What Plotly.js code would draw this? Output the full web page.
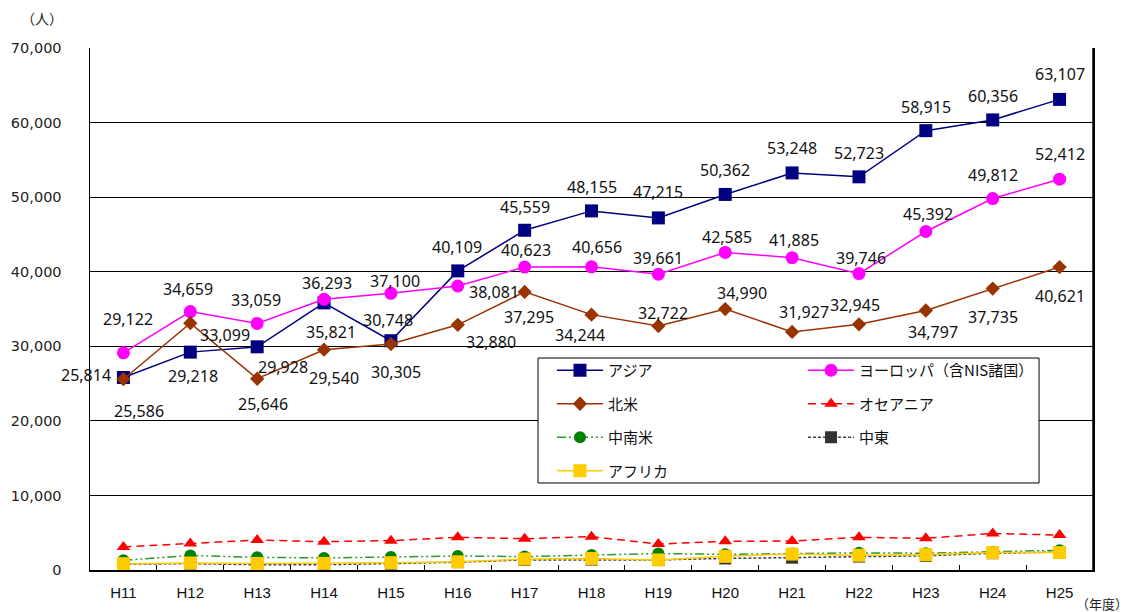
<!DOCTYPE html>
<html>
<head>
<meta charset="utf-8">
<script src="https://cdn.plot.ly/plotly-3.0.1.min.js"></script>
<style>
  html, body { margin: 0; padding: 0; background: #fff; }
  #chart { width: 1128px; height: 612px; }
</style>
</head>
<body>
<div id="chart"></div>
<script>
// ---- data ----
const years = ["H11","H12","H13","H14","H15","H16","H17","H18","H19","H20","H21","H22","H23","H24","H25"];
const asia = [25814, 29218, 29928, 35821, 30748, 40109, 45559, 48155, 47215, 50362, 53248, 52723, 58915, 60356, 63107];
const europe = [29122, 34659, 33059, 36293, 37100, 38081, 40623, 40656, 39661, 42585, 41885, 39746, 45392, 49812, 52412];
const northAmerica = [25586, 33099, 25646, 29540, 30305, 32880, 37295, 34244, 32722, 34990, 31927, 32945, 34797, 37735, 40621];
const oceania = [3100, 3570, 4020, 3800, 3930, 4380, 4200, 4470, 3480, 3840, 3890, 4380, 4250, 4900, 4690];
const latinAmerica = [1300, 1950, 1700, 1620, 1740, 1880, 1800, 2000, 2200, 2100, 2200, 2300, 2250, 2450, 2640];
const middleEast = [780, 850, 700, 720, 850, 1050, 1350, 1400, 1350, 1550, 1650, 1800, 1900, 2250, 2400];
const africa = [850, 940, 870, 890, 980, 1100, 1470, 1550, 1350, 1830, 2140, 1970, 2060, 2330, 2330];

const names = {
  asia: "アジア", europe: "ヨーロッパ（含NIS諸国）", na: "北米", oceania: "オセアニア",
  latin: "中南米", me: "中東", africa: "アフリカ"
};

// ---- label offsets (screen px, dx right, dy down) ----
const asiaLabelOffsets = [[-37,-3],[3,24],[26,20],[7,29],[-3,-21],[-1,-24],[0,-23],[0,-24],[0,-26],[0,-24],[0,-25],[0,-24],[0,-24],[0,-24],[0,-25]];
const europeLabelOffsets = [[5,-34],[-2,-23],[-1,-23],[3,-16],[4,-12],[36,6],[1,-17],[5,-20],[0,-16],[2,-15],[2,-18],[2,-16],[2,-18],[0,-24],[0,-25]];
const naLabelOffsets = [[16,32],[35,12],[6,25],[10,28],[5,28],[33,17],[4,25],[-12,20],[5,-13],[17,-16],[12,-20],[-4,-19],[7,21],[0,28],[0,29]];

const labelFont = {family: "Noto Sans, Open Sans, sans-serif", size: 16, color: "#111"};

function labels(values, offsets) {
  return values.map((v, i) => ({
    x: years[i], y: v, xref: "x", yref: "y",
    text: v.toLocaleString("en-US"),
    showarrow: false, font: labelFont,
    xshift: offsets[i][0], yshift: -offsets[i][1]
  }));
}

const traces = [
  {name: names.asia, y: asia, legend: "legend", legendgroup: "a", legendrank: 1,
   line: {color: "#000080", width: 1.5}, marker: {symbol: "square", size: 13, color: "#000080"}},
  {name: names.europe, y: europe, legend: "legend2", legendgroup: "b", legendrank: 1,
   line: {color: "#FF00FF", width: 1.5}, marker: {symbol: "circle", size: 13, color: "#FF00FF"}},
  {name: names.na, y: northAmerica, legend: "legend", legendgroup: "c", legendrank: 2,
   line: {color: "#993300", width: 1.5}, marker: {symbol: "diamond", size: 11, color: "#993300"}},
  {name: names.oceania, y: oceania, legend: "legend2", legendgroup: "d", legendrank: 2,
   line: {color: "#FF0000", width: 1.5, dash: "8px,5px"}, marker: {symbol: "triangle-up", size: 12, color: "#FF0000"}},
  {name: names.me, y: middleEast, legend: "legend2", legendgroup: "f", legendrank: 3,
   line: {color: "#404040", width: 1.5, dash: "3px,2px"}, marker: {symbol: "square", size: 12, color: "#333333"}},
  {name: names.latin, y: latinAmerica, legend: "legend", legendgroup: "e", legendrank: 3,
   line: {color: "#2E9A2E", width: 1.5, dash: "9px,3px,2px,3px,2px,3px"}, marker: {symbol: "circle", size: 12, color: "#008000"}},
  {name: names.africa, y: africa, legend: "legend", legendgroup: "g", legendrank: 4,
   line: {color: "#FFCC00", width: 1.5}, marker: {symbol: "square", size: 13, color: "#FFCC00"}}
].map(t => Object.assign({type: "scatter", mode: "lines+markers", x: years, hoverinfo: "skip"}, t));

const legendCommon = {
  orientation: "v", bgcolor: "rgba(0,0,0,0)", borderwidth: 0,
  font: {family: "Noto Sans CJK JP, sans-serif", size: 15, color: "#111"},
  itemwidth: 46, traceorder: "grouped", tracegroupgap: 11,
  xanchor: "left", yanchor: "top", itemclick: false, itemdoubleclick: false
};

const layout = {
  width: 1128, height: 612,
  margin: {l: 90, r: 35, t: 48, b: 42},
  paper_bgcolor: "#fff", plot_bgcolor: "#fff",
  showlegend: true,
  legend: Object.assign({}, legendCommon, {x: 0.4606, y: 0.4138}),
  legend2: Object.assign({}, legendCommon, {x: 0.7109, y: 0.4138}),
  xaxis: {
    type: "category", range: [-0.5, 14.5],
    showline: true, linecolor: "#000", linewidth: 2, mirror: false,
    ticks: "inside", tickson: "boundaries", ticklen: 5, tickcolor: "#000", tickwidth: 1,
    showgrid: false, zeroline: false,
    tickfont: {family: "Liberation Sans, Arial, sans-serif", size: 15, color: "#111"},
    ticklabelstandoff: 8, fixedrange: true
  },
  yaxis: {
    range: [0, 70000], dtick: 10000, tickformat: ",d",
    showline: true, linecolor: "#000", linewidth: 1.5, mirror: true,
    showgrid: true, gridcolor: "#000", gridwidth: 1, zeroline: false,
    ticks: "", tickfont: {family: "DejaVu Sans, sans-serif", size: 14.5, color: "#222"},
    ticklabelstandoff: 24, fixedrange: true
  },
  shapes: [
    {type: "line", xref: "paper", yref: "paper", x0: 1, x1: 1, y0: 0, y1: 1, line: {color: "#000", width: 1.5}},
    {type: "rect", xref: "paper", yref: "paper", x0: 0.4467, x1: 0.9462, y0: 0.1667, y1: 0.4061,
     fillcolor: "#fff", line: {color: "#000", width: 1}, layer: "above"}
  ],
  annotations: [].concat(
    labels(asia, asiaLabelOffsets),
    labels(europe, europeLabelOffsets),
    labels(northAmerica, naLabelOffsets),
    [
      {xref: "paper", yref: "paper", x: -0.048, y: 1.0575, yanchor: "middle", xanchor: "center", text: "（人）", showarrow: false,
       font: {family: "Noto Sans CJK JP, sans-serif", size: 14, color: "#222"}},
      {xref: "paper", yref: "paper", x: 0.981, y: -0.065, yanchor: "middle", xanchor: "left", text: "（年度）", showarrow: false,
       font: {family: "Noto Sans CJK JP, sans-serif", size: 13, color: "#222"}}
    ]
  )
};

Plotly.newPlot("chart", traces, layout, {staticPlot: true, displayModeBar: false});
</script>
</body>
</html>
